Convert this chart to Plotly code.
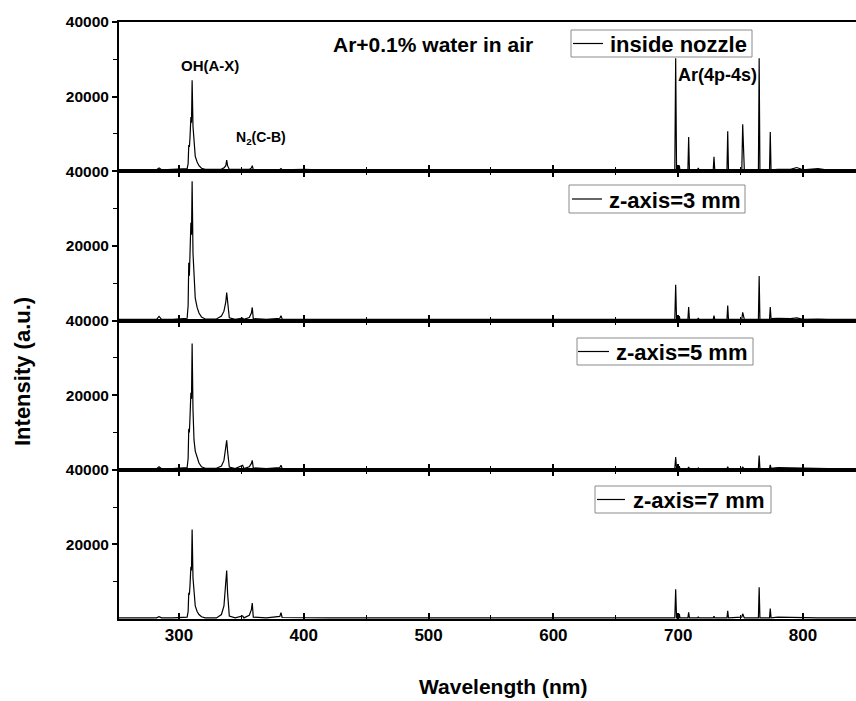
import plotly.graph_objects as go

# ---------------- data ----------------
wavelength = [251.9, 270, 282, 284, 286, 295, 303, 306.5, 307.3, 307.8, 308.3, 308.8,
              309.5, 310.0, 310.5, 311.2, 312, 313, 314.5, 316, 318, 321, 330, 334,
              336, 337.5, 338.2, 338.9, 340.3, 345, 351, 352, 356.3, 358, 358.7, 359.5,
              370, 380.8, 381.7, 382.6, 400, 420, 450, 500, 550, 600, 650, 690,
              697.3, 698.0, 698.7, 700.4, 700.9, 701.4, 707.8, 708.4, 709.0, 715.6,
              716.1, 716.6, 728.1, 728.7, 729.3, 739.1, 739.7, 740.3, 751.0, 751.7,
              752.3, 753.0, 764.3, 764.9, 765.5, 773.2, 773.8, 774.4, 780, 790, 795,
              800, 812, 820, 842.5]

inside_nozzle = [300, 400, 400, 900, 400, 500, 500, 700, 2000, 7000, 6500, 9000,
                 14500, 13000, 24400, 12000, 7000, 4000, 2500, 1500, 800, 500, 500, 600,
                 900, 1500, 3000, 1500, 500, 500, 500, 400, 500, 900, 1500, 400,
                 400, 500, 700, 400, 500, 300, 400, 300, 400, 300, 400, 400,
                 500, 30300, 500, 400, 1600, 400, 400, 9200, 400, 400,
                 900, 400, 400, 3900, 400, 400, 10700, 400, 500, 12600,
                 5200, 400, 400, 30300, 400, 400, 10500, 400, 500, 500, 1000,
                 400, 700, 300, 300]

z3mm = [300, 300, 300, 1100, 300, 300, 400, 600, 4000, 15500, 12000, 16000,
        26200, 23000, 37300, 18000, 10000, 6000, 3500, 2000, 900, 400, 400, 1200,
        2500, 5000, 7500, 4500, 700, 300, 600, 300, 800, 2000, 3500, 500,
        300, 600, 1300, 400, 300, 300, 300, 300, 300, 300, 300, 300,
        300, 9600, 300, 300, 1200, 300, 300, 3600, 300, 300,
        700, 300, 300, 1300, 300, 300, 4000, 300, 400, 2200,
        1500, 300, 300, 11900, 300, 300, 3600, 500, 600, 500, 700,
        300, 400, 300, 300]

z5mm = [300, 300, 300, 800, 300, 300, 400, 600, 3000, 11000, 10000, 14000,
        20600, 19000, 33800, 16000, 8000, 5000, 3000, 1800, 800, 400, 400, 1000,
        2500, 5900, 7900, 5000, 700, 300, 1200, 300, 800, 1700, 2500, 500,
        300, 600, 1200, 400, 300, 300, 300, 300, 300, 300, 300, 300,
        300, 3400, 300, 300, 1000, 300, 300, 700, 300, 300,
        500, 300, 300, 500, 300, 300, 800, 300, 400, 700,
        500, 300, 300, 3800, 300, 300, 1300, 400, 600, 500, 500,
        300, 300, 300, 300]

z7mm = [300, 300, 300, 600, 300, 300, 400, 500, 2000, 7000, 6500, 9000,
        14000, 13000, 24000, 11000, 6000, 3500, 2000, 1200, 600, 300, 300, 1200,
        3500, 10400, 13000, 7000, 800, 300, 800, 300, 1000, 2500, 4300, 500,
        300, 700, 1700, 400, 300, 300, 300, 300, 300, 300, 300, 300,
        300, 8000, 300, 300, 1400, 300, 300, 1800, 300, 300,
        600, 300, 300, 700, 300, 300, 2200, 300, 500, 1400,
        1000, 300, 300, 8500, 300, 300, 2800, 300, 500, 400, 400,
        300, 300, 300, 300]

series_names = ["inside nozzle", "z-axis=3 mm", "z-axis=5 mm", "z-axis=7 mm"]
series_values = [inside_nozzle, z3mm, z5mm, z7mm]

x_ticks = [300, 400, 500, 600, 700, 800]
y_ticks = [20000, 40000]
y_tick_text = ["20000", "40000"]
y_minor = [10000, 30000]

# ---------------- figure ----------------
FONT = "Liberation Sans, Arial, sans-serif"
W, H = 856, 701
ML, MR, MT, MB = 119, 0, 22, 82
PW, PH = W - ML - MR, H - MT - MB


def px_x(p):
    return (p - ML) / PW


def px_y(p):
    return (H - MB - p) / PH


fig = go.Figure()
domains = [[0.75, 1.0], [0.5, 0.75], [0.25, 0.5], [0.0, 0.25]]

for i, (name, vals) in enumerate(zip(series_names, series_values)):
    n = i + 1
    sfx = "" if n == 1 else str(n)
    fig.add_trace(go.Scatter(
        x=wavelength, y=vals, mode="lines", name=name,
        line=dict(color="black", width=1.2),
        xaxis="x" + sfx, yaxis="y" + sfx, showlegend=False))

    fig.update_layout(**{
        "xaxis" + sfx: dict(
            domain=[0, 1], anchor="y" + sfx, range=[251.9, 842.5],
            tickvals=x_ticks, ticks="inside", ticklen=6, tickwidth=1.5,
            tickcolor="black",
            minor=dict(dtick=50, tick0=0, ticks="inside", ticklen=4,
                       tickwidth=1.2, tickcolor="black"),
            showline=True, linewidth=2, linecolor="black",
            mirror=True if n == 1 else "ticks",
            showgrid=False, zeroline=False,
            showticklabels=(n == 4),
            tickfont=dict(family=FONT, size=17, color="black", weight="bold"),
            **({} if n == 1 else {"matches": "x"})),
        "yaxis" + sfx: dict(
            domain=domains[i], anchor="x" + sfx, range=[0, 40000],
            tickvals=y_ticks, ticktext=y_tick_text,
            ticks="outside", ticklen=5, tickwidth=1.5, tickcolor="black",
            minor=dict(tickvals=y_minor, ticks="outside", ticklen=4,
                       tickwidth=1.2, tickcolor="black"),
            showline=True, linewidth=2, linecolor="black",
            showgrid=False, zeroline=False,
            tickfont=dict(family=FONT, size=15.5, color="black", weight="bold")),
    })

# legend-like boxes: (box left, box top, box right, box bottom, line x0, line x1, text x)
legend_boxes = [
    (571, 30, 752, 57, 573, 603, 608),
    (569, 185, 745, 213, 572, 602, 607),
    (577, 338, 753, 365, 578, 609, 614),
    (595, 486, 771, 513, 597, 625, 631),
]

shapes = []
annotations = []
for name, (bx0, by0, bx1, by1, lx0, lx1, tx) in zip(series_names, legend_boxes):
    ym = (by0 + by1) / 2
    shapes.append(dict(type="rect", xref="paper", yref="paper",
                       x0=px_x(bx0), x1=px_x(bx1), y0=px_y(by1), y1=px_y(by0),
                       line=dict(color="#8a8a8a", width=1), fillcolor="white", layer="above"))
    shapes.append(dict(type="line", xref="paper", yref="paper",
                       x0=px_x(lx0), x1=px_x(lx1), y0=px_y(ym), y1=px_y(ym),
                       line=dict(color="black", width=1.2), layer="above"))
    annotations.append(dict(text=name, x=px_x(tx), y=px_y(ym + 1), xref="paper", yref="paper",
                            xanchor="left", yanchor="middle", showarrow=False,
                            font=dict(family=FONT, size=22, color="black", weight="bold")))

annotations += [
    dict(text="Ar+0.1% water in air", x=503.5, y=34000, xref="x", yref="y",
         showarrow=False, font=dict(family=FONT, size=21, color="black", weight="bold")),
    dict(text="OH(A-X)", x=324.8, y=28400, xref="x", yref="y",
         showarrow=False, font=dict(family=FONT, size=15, color="black", weight="bold")),
    dict(text="N<sub>2</sub>(C-B)", x=365.7, y=8850, xref="x", yref="y",
         showarrow=False, font=dict(family=FONT, size=14, color="black", weight="bold")),
    dict(text="Ar(4p-4s)", x=731.9, y=25700, xref="x", yref="y",
         showarrow=False, font=dict(family=FONT, size=18, color="black", weight="bold")),
    dict(text="Wavelength (nm)", x=px_x(503), y=px_y(686),
         xref="paper", yref="paper", xanchor="center", yanchor="middle",
         showarrow=False, font=dict(family=FONT, size=21, color="black", weight="bold")),
    dict(text="Intensity (a.u.)", x=px_x(23), y=px_y(372),
         xref="paper", yref="paper", xanchor="center", yanchor="middle", textangle=-90,
         showarrow=False, font=dict(family=FONT, size=22, color="black", weight="bold")),
]

fig.update_layout(
    width=W, height=H,
    margin=dict(l=ML, r=MR, t=MT, b=MB),
    paper_bgcolor="white", plot_bgcolor="white",
    annotations=annotations, shapes=shapes, showlegend=False,
    font=dict(family=FONT, color="black"),
)

fig.write_html("out.html")
